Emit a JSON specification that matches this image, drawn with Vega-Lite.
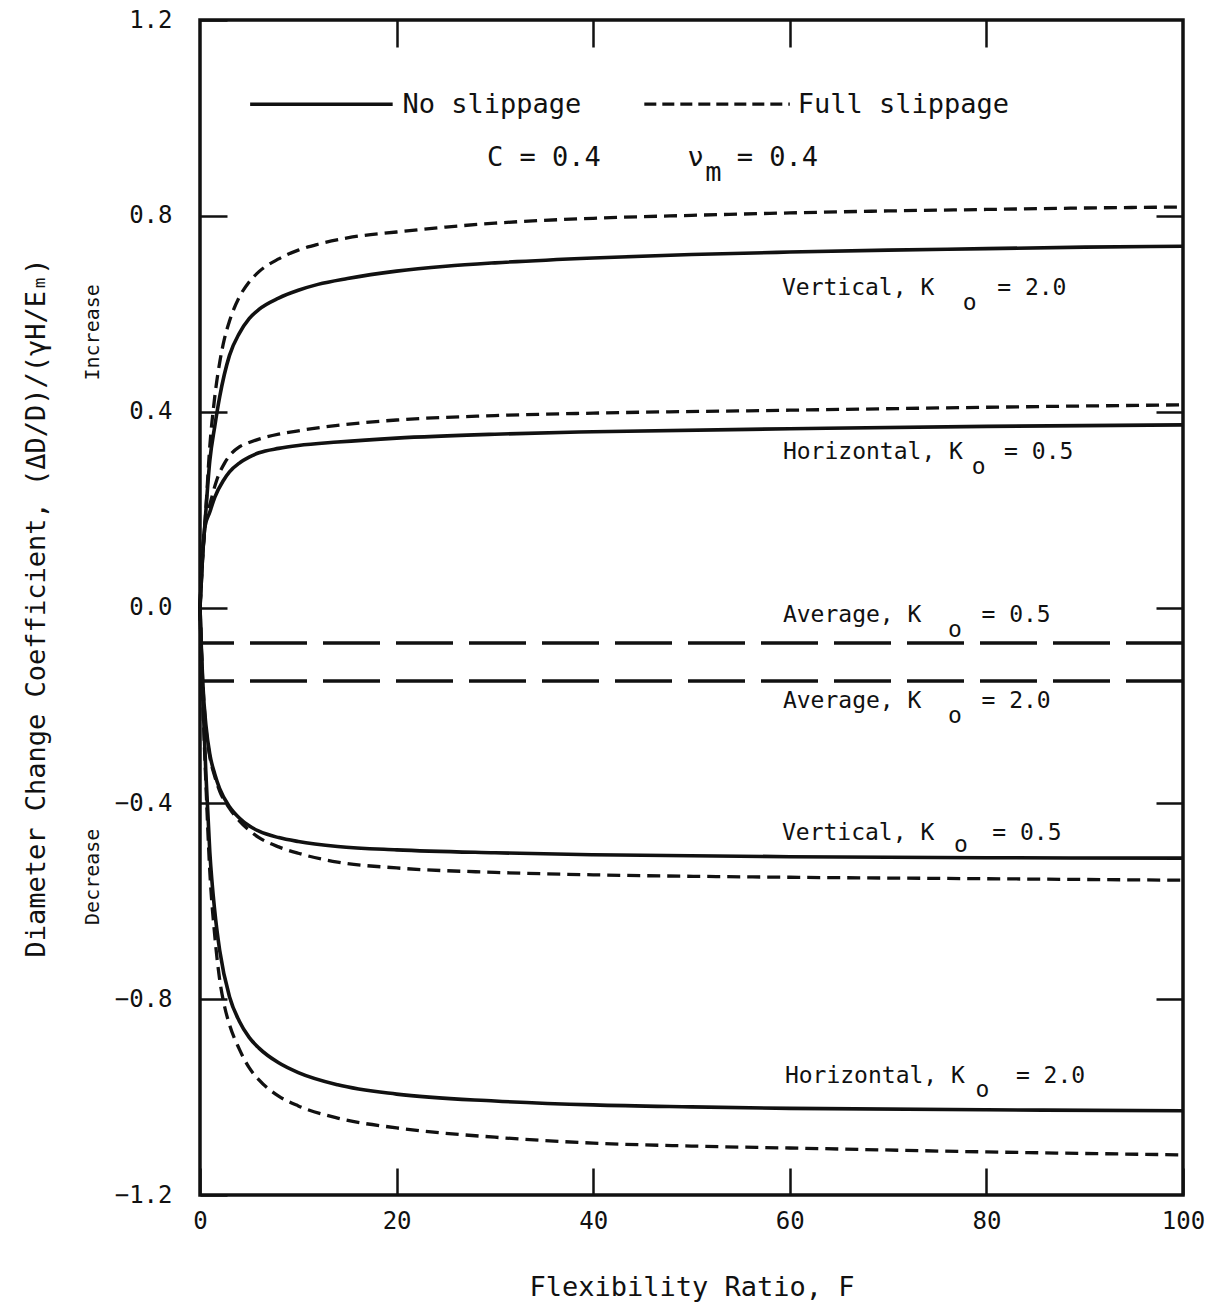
{
  "$schema": "https://vega.github.io/schema/vega-lite/v6.json",
  "width": 983,
  "height": 1175,
  "autosize": "none",
  "padding": {"left": 200, "top": 20, "right": 32, "bottom": 108},
  "background": "white",
  "config": {
    "view": {"stroke": "#111", "strokeWidth": 3.5},
    "axis": {
      "domain": false,
      "grid": false,
      "tickColor": "#111",
      "tickWidth": 2.5,
      "tickSize": -27,
      "labelColor": "#111",
      "labelFont": "DejaVu Sans Mono",
      "labelFontSize": 24,
      "labelFlush": false,
      "labelOverlap": false,
      "titleColor": "#111",
      "titleFont": "DejaVu Sans Mono",
      "titleFontSize": 27,
      "titleFontWeight": "normal"
    },
    "text": {"font": "DejaVu Sans Mono", "fontSize": 23, "color": "#111"}
  },
  "datasets": {
    "curves": [
      {"curve": "Vertical, Ko = 2.0", "contact": "No slippage", "F": 0, "coef": 0},
      {"curve": "Vertical, Ko = 2.0", "contact": "No slippage", "F": 0.25, "coef": 0.1},
      {"curve": "Vertical, Ko = 2.0", "contact": "No slippage", "F": 0.5, "coef": 0.17},
      {"curve": "Vertical, Ko = 2.0", "contact": "No slippage", "F": 1, "coef": 0.3},
      {"curve": "Vertical, Ko = 2.0", "contact": "No slippage", "F": 1.5, "coef": 0.37},
      {"curve": "Vertical, Ko = 2.0", "contact": "No slippage", "F": 2, "coef": 0.43},
      {"curve": "Vertical, Ko = 2.0", "contact": "No slippage", "F": 3, "coef": 0.515},
      {"curve": "Vertical, Ko = 2.0", "contact": "No slippage", "F": 4, "coef": 0.56},
      {"curve": "Vertical, Ko = 2.0", "contact": "No slippage", "F": 5, "coef": 0.59},
      {"curve": "Vertical, Ko = 2.0", "contact": "No slippage", "F": 6, "coef": 0.609},
      {"curve": "Vertical, Ko = 2.0", "contact": "No slippage", "F": 8, "coef": 0.632},
      {"curve": "Vertical, Ko = 2.0", "contact": "No slippage", "F": 10, "coef": 0.648},
      {"curve": "Vertical, Ko = 2.0", "contact": "No slippage", "F": 12, "coef": 0.66},
      {"curve": "Vertical, Ko = 2.0", "contact": "No slippage", "F": 15, "coef": 0.672},
      {"curve": "Vertical, Ko = 2.0", "contact": "No slippage", "F": 20, "coef": 0.687},
      {"curve": "Vertical, Ko = 2.0", "contact": "No slippage", "F": 25, "coef": 0.697},
      {"curve": "Vertical, Ko = 2.0", "contact": "No slippage", "F": 30, "coef": 0.704},
      {"curve": "Vertical, Ko = 2.0", "contact": "No slippage", "F": 40, "coef": 0.714},
      {"curve": "Vertical, Ko = 2.0", "contact": "No slippage", "F": 50, "coef": 0.721},
      {"curve": "Vertical, Ko = 2.0", "contact": "No slippage", "F": 60, "coef": 0.726},
      {"curve": "Vertical, Ko = 2.0", "contact": "No slippage", "F": 70, "coef": 0.73},
      {"curve": "Vertical, Ko = 2.0", "contact": "No slippage", "F": 80, "coef": 0.733},
      {"curve": "Vertical, Ko = 2.0", "contact": "No slippage", "F": 90, "coef": 0.736},
      {"curve": "Vertical, Ko = 2.0", "contact": "No slippage", "F": 100, "coef": 0.738},

      {"curve": "Vertical, Ko = 2.0", "contact": "Full slippage", "F": 0, "coef": 0},
      {"curve": "Vertical, Ko = 2.0", "contact": "Full slippage", "F": 0.25, "coef": 0.1},
      {"curve": "Vertical, Ko = 2.0", "contact": "Full slippage", "F": 0.5, "coef": 0.17},
      {"curve": "Vertical, Ko = 2.0", "contact": "Full slippage", "F": 1, "coef": 0.33},
      {"curve": "Vertical, Ko = 2.0", "contact": "Full slippage", "F": 1.5, "coef": 0.43},
      {"curve": "Vertical, Ko = 2.0", "contact": "Full slippage", "F": 2, "coef": 0.5},
      {"curve": "Vertical, Ko = 2.0", "contact": "Full slippage", "F": 2.5, "coef": 0.55},
      {"curve": "Vertical, Ko = 2.0", "contact": "Full slippage", "F": 3, "coef": 0.585},
      {"curve": "Vertical, Ko = 2.0", "contact": "Full slippage", "F": 4, "coef": 0.634},
      {"curve": "Vertical, Ko = 2.0", "contact": "Full slippage", "F": 5, "coef": 0.665},
      {"curve": "Vertical, Ko = 2.0", "contact": "Full slippage", "F": 6, "coef": 0.686},
      {"curve": "Vertical, Ko = 2.0", "contact": "Full slippage", "F": 8, "coef": 0.712},
      {"curve": "Vertical, Ko = 2.0", "contact": "Full slippage", "F": 10, "coef": 0.73},
      {"curve": "Vertical, Ko = 2.0", "contact": "Full slippage", "F": 12, "coef": 0.742},
      {"curve": "Vertical, Ko = 2.0", "contact": "Full slippage", "F": 15, "coef": 0.755},
      {"curve": "Vertical, Ko = 2.0", "contact": "Full slippage", "F": 20, "coef": 0.767},
      {"curve": "Vertical, Ko = 2.0", "contact": "Full slippage", "F": 25, "coef": 0.777},
      {"curve": "Vertical, Ko = 2.0", "contact": "Full slippage", "F": 30, "coef": 0.785},
      {"curve": "Vertical, Ko = 2.0", "contact": "Full slippage", "F": 40, "coef": 0.795},
      {"curve": "Vertical, Ko = 2.0", "contact": "Full slippage", "F": 50, "coef": 0.801},
      {"curve": "Vertical, Ko = 2.0", "contact": "Full slippage", "F": 60, "coef": 0.806},
      {"curve": "Vertical, Ko = 2.0", "contact": "Full slippage", "F": 70, "coef": 0.81},
      {"curve": "Vertical, Ko = 2.0", "contact": "Full slippage", "F": 80, "coef": 0.813},
      {"curve": "Vertical, Ko = 2.0", "contact": "Full slippage", "F": 90, "coef": 0.816},
      {"curve": "Vertical, Ko = 2.0", "contact": "Full slippage", "F": 100, "coef": 0.818},

      {"curve": "Horizontal, Ko = 0.5", "contact": "No slippage", "F": 0, "coef": 0},
      {"curve": "Horizontal, Ko = 0.5", "contact": "No slippage", "F": 0.25, "coef": 0.1},
      {"curve": "Horizontal, Ko = 0.5", "contact": "No slippage", "F": 0.5, "coef": 0.165},
      {"curve": "Horizontal, Ko = 0.5", "contact": "No slippage", "F": 1, "coef": 0.195},
      {"curve": "Horizontal, Ko = 0.5", "contact": "No slippage", "F": 1.5, "coef": 0.225},
      {"curve": "Horizontal, Ko = 0.5", "contact": "No slippage", "F": 2.4, "coef": 0.26},
      {"curve": "Horizontal, Ko = 0.5", "contact": "No slippage", "F": 3, "coef": 0.277},
      {"curve": "Horizontal, Ko = 0.5", "contact": "No slippage", "F": 4, "coef": 0.295},
      {"curve": "Horizontal, Ko = 0.5", "contact": "No slippage", "F": 5, "coef": 0.307},
      {"curve": "Horizontal, Ko = 0.5", "contact": "No slippage", "F": 6, "coef": 0.316},
      {"curve": "Horizontal, Ko = 0.5", "contact": "No slippage", "F": 8, "coef": 0.325},
      {"curve": "Horizontal, Ko = 0.5", "contact": "No slippage", "F": 10, "coef": 0.331},
      {"curve": "Horizontal, Ko = 0.5", "contact": "No slippage", "F": 14, "coef": 0.338},
      {"curve": "Horizontal, Ko = 0.5", "contact": "No slippage", "F": 20, "coef": 0.346},
      {"curve": "Horizontal, Ko = 0.5", "contact": "No slippage", "F": 30, "coef": 0.354},
      {"curve": "Horizontal, Ko = 0.5", "contact": "No slippage", "F": 40, "coef": 0.359},
      {"curve": "Horizontal, Ko = 0.5", "contact": "No slippage", "F": 60, "coef": 0.365},
      {"curve": "Horizontal, Ko = 0.5", "contact": "No slippage", "F": 80, "coef": 0.37},
      {"curve": "Horizontal, Ko = 0.5", "contact": "No slippage", "F": 100, "coef": 0.373},

      {"curve": "Horizontal, Ko = 0.5", "contact": "Full slippage", "F": 0, "coef": 0},
      {"curve": "Horizontal, Ko = 0.5", "contact": "Full slippage", "F": 0.25, "coef": 0.1},
      {"curve": "Horizontal, Ko = 0.5", "contact": "Full slippage", "F": 0.5, "coef": 0.17},
      {"curve": "Horizontal, Ko = 0.5", "contact": "Full slippage", "F": 1, "coef": 0.21},
      {"curve": "Horizontal, Ko = 0.5", "contact": "Full slippage", "F": 1.7, "coef": 0.26},
      {"curve": "Horizontal, Ko = 0.5", "contact": "Full slippage", "F": 2.5, "coef": 0.295},
      {"curve": "Horizontal, Ko = 0.5", "contact": "Full slippage", "F": 3, "coef": 0.31},
      {"curve": "Horizontal, Ko = 0.5", "contact": "Full slippage", "F": 4, "coef": 0.328},
      {"curve": "Horizontal, Ko = 0.5", "contact": "Full slippage", "F": 5, "coef": 0.337},
      {"curve": "Horizontal, Ko = 0.5", "contact": "Full slippage", "F": 6, "coef": 0.344},
      {"curve": "Horizontal, Ko = 0.5", "contact": "Full slippage", "F": 8, "coef": 0.354},
      {"curve": "Horizontal, Ko = 0.5", "contact": "Full slippage", "F": 10, "coef": 0.361},
      {"curve": "Horizontal, Ko = 0.5", "contact": "Full slippage", "F": 14, "coef": 0.372},
      {"curve": "Horizontal, Ko = 0.5", "contact": "Full slippage", "F": 20, "coef": 0.383},
      {"curve": "Horizontal, Ko = 0.5", "contact": "Full slippage", "F": 30, "coef": 0.392},
      {"curve": "Horizontal, Ko = 0.5", "contact": "Full slippage", "F": 40, "coef": 0.397},
      {"curve": "Horizontal, Ko = 0.5", "contact": "Full slippage", "F": 60, "coef": 0.403},
      {"curve": "Horizontal, Ko = 0.5", "contact": "Full slippage", "F": 80, "coef": 0.409},
      {"curve": "Horizontal, Ko = 0.5", "contact": "Full slippage", "F": 100, "coef": 0.414},

      {"curve": "Vertical, Ko = 0.5", "contact": "No slippage", "F": 0, "coef": 0},
      {"curve": "Vertical, Ko = 0.5", "contact": "No slippage", "F": 0.15, "coef": -0.09},
      {"curve": "Vertical, Ko = 0.5", "contact": "No slippage", "F": 0.3, "coef": -0.16},
      {"curve": "Vertical, Ko = 0.5", "contact": "No slippage", "F": 0.6, "coef": -0.24},
      {"curve": "Vertical, Ko = 0.5", "contact": "No slippage", "F": 1, "coef": -0.3},
      {"curve": "Vertical, Ko = 0.5", "contact": "No slippage", "F": 1.5, "coef": -0.34},
      {"curve": "Vertical, Ko = 0.5", "contact": "No slippage", "F": 2, "coef": -0.37},
      {"curve": "Vertical, Ko = 0.5", "contact": "No slippage", "F": 3, "coef": -0.407},
      {"curve": "Vertical, Ko = 0.5", "contact": "No slippage", "F": 4, "coef": -0.43},
      {"curve": "Vertical, Ko = 0.5", "contact": "No slippage", "F": 5, "coef": -0.446},
      {"curve": "Vertical, Ko = 0.5", "contact": "No slippage", "F": 6, "coef": -0.457},
      {"curve": "Vertical, Ko = 0.5", "contact": "No slippage", "F": 8, "coef": -0.47},
      {"curve": "Vertical, Ko = 0.5", "contact": "No slippage", "F": 10, "coef": -0.478},
      {"curve": "Vertical, Ko = 0.5", "contact": "No slippage", "F": 14, "coef": -0.488},
      {"curve": "Vertical, Ko = 0.5", "contact": "No slippage", "F": 20, "coef": -0.495},
      {"curve": "Vertical, Ko = 0.5", "contact": "No slippage", "F": 30, "coef": -0.501},
      {"curve": "Vertical, Ko = 0.5", "contact": "No slippage", "F": 40, "coef": -0.505},
      {"curve": "Vertical, Ko = 0.5", "contact": "No slippage", "F": 60, "coef": -0.509},
      {"curve": "Vertical, Ko = 0.5", "contact": "No slippage", "F": 80, "coef": -0.511},
      {"curve": "Vertical, Ko = 0.5", "contact": "No slippage", "F": 100, "coef": -0.512},

      {"curve": "Vertical, Ko = 0.5", "contact": "Full slippage", "F": 0, "coef": 0},
      {"curve": "Vertical, Ko = 0.5", "contact": "Full slippage", "F": 0.15, "coef": -0.09},
      {"curve": "Vertical, Ko = 0.5", "contact": "Full slippage", "F": 0.3, "coef": -0.16},
      {"curve": "Vertical, Ko = 0.5", "contact": "Full slippage", "F": 0.6, "coef": -0.245},
      {"curve": "Vertical, Ko = 0.5", "contact": "Full slippage", "F": 1, "coef": -0.305},
      {"curve": "Vertical, Ko = 0.5", "contact": "Full slippage", "F": 1.5, "coef": -0.345},
      {"curve": "Vertical, Ko = 0.5", "contact": "Full slippage", "F": 2, "coef": -0.375},
      {"curve": "Vertical, Ko = 0.5", "contact": "Full slippage", "F": 3, "coef": -0.41},
      {"curve": "Vertical, Ko = 0.5", "contact": "Full slippage", "F": 4, "coef": -0.436},
      {"curve": "Vertical, Ko = 0.5", "contact": "Full slippage", "F": 5, "coef": -0.455},
      {"curve": "Vertical, Ko = 0.5", "contact": "Full slippage", "F": 6, "coef": -0.47},
      {"curve": "Vertical, Ko = 0.5", "contact": "Full slippage", "F": 8, "coef": -0.489},
      {"curve": "Vertical, Ko = 0.5", "contact": "Full slippage", "F": 10, "coef": -0.502},
      {"curve": "Vertical, Ko = 0.5", "contact": "Full slippage", "F": 14, "coef": -0.52},
      {"curve": "Vertical, Ko = 0.5", "contact": "Full slippage", "F": 20, "coef": -0.532},
      {"curve": "Vertical, Ko = 0.5", "contact": "Full slippage", "F": 30, "coef": -0.541},
      {"curve": "Vertical, Ko = 0.5", "contact": "Full slippage", "F": 40, "coef": -0.546},
      {"curve": "Vertical, Ko = 0.5", "contact": "Full slippage", "F": 60, "coef": -0.551},
      {"curve": "Vertical, Ko = 0.5", "contact": "Full slippage", "F": 80, "coef": -0.554},
      {"curve": "Vertical, Ko = 0.5", "contact": "Full slippage", "F": 100, "coef": -0.557},

      {"curve": "Horizontal, Ko = 2.0", "contact": "No slippage", "F": 0, "coef": 0},
      {"curve": "Horizontal, Ko = 2.0", "contact": "No slippage", "F": 0.15, "coef": -0.1},
      {"curve": "Horizontal, Ko = 2.0", "contact": "No slippage", "F": 0.3, "coef": -0.19},
      {"curve": "Horizontal, Ko = 2.0", "contact": "No slippage", "F": 0.6, "coef": -0.34},
      {"curve": "Horizontal, Ko = 2.0", "contact": "No slippage", "F": 1, "coef": -0.5},
      {"curve": "Horizontal, Ko = 2.0", "contact": "No slippage", "F": 1.5, "coef": -0.62},
      {"curve": "Horizontal, Ko = 2.0", "contact": "No slippage", "F": 2, "coef": -0.7},
      {"curve": "Horizontal, Ko = 2.0", "contact": "No slippage", "F": 3, "coef": -0.795},
      {"curve": "Horizontal, Ko = 2.0", "contact": "No slippage", "F": 4, "coef": -0.845},
      {"curve": "Horizontal, Ko = 2.0", "contact": "No slippage", "F": 5, "coef": -0.878},
      {"curve": "Horizontal, Ko = 2.0", "contact": "No slippage", "F": 6, "coef": -0.9},
      {"curve": "Horizontal, Ko = 2.0", "contact": "No slippage", "F": 8, "coef": -0.93},
      {"curve": "Horizontal, Ko = 2.0", "contact": "No slippage", "F": 10, "coef": -0.95},
      {"curve": "Horizontal, Ko = 2.0", "contact": "No slippage", "F": 14, "coef": -0.975},
      {"curve": "Horizontal, Ko = 2.0", "contact": "No slippage", "F": 20, "coef": -0.994},
      {"curve": "Horizontal, Ko = 2.0", "contact": "No slippage", "F": 30, "coef": -1.008},
      {"curve": "Horizontal, Ko = 2.0", "contact": "No slippage", "F": 40, "coef": -1.016},
      {"curve": "Horizontal, Ko = 2.0", "contact": "No slippage", "F": 50, "coef": -1.02},
      {"curve": "Horizontal, Ko = 2.0", "contact": "No slippage", "F": 60, "coef": -1.023},
      {"curve": "Horizontal, Ko = 2.0", "contact": "No slippage", "F": 80, "coef": -1.026},
      {"curve": "Horizontal, Ko = 2.0", "contact": "No slippage", "F": 100, "coef": -1.028},

      {"curve": "Horizontal, Ko = 2.0", "contact": "Full slippage", "F": 0, "coef": 0},
      {"curve": "Horizontal, Ko = 2.0", "contact": "Full slippage", "F": 0.15, "coef": -0.1},
      {"curve": "Horizontal, Ko = 2.0", "contact": "Full slippage", "F": 0.3, "coef": -0.2},
      {"curve": "Horizontal, Ko = 2.0", "contact": "Full slippage", "F": 0.6, "coef": -0.36},
      {"curve": "Horizontal, Ko = 2.0", "contact": "Full slippage", "F": 1, "coef": -0.54},
      {"curve": "Horizontal, Ko = 2.0", "contact": "Full slippage", "F": 1.5, "coef": -0.67},
      {"curve": "Horizontal, Ko = 2.0", "contact": "Full slippage", "F": 2, "coef": -0.76},
      {"curve": "Horizontal, Ko = 2.0", "contact": "Full slippage", "F": 2.5, "coef": -0.815},
      {"curve": "Horizontal, Ko = 2.0", "contact": "Full slippage", "F": 3, "coef": -0.852},
      {"curve": "Horizontal, Ko = 2.0", "contact": "Full slippage", "F": 4, "coef": -0.902},
      {"curve": "Horizontal, Ko = 2.0", "contact": "Full slippage", "F": 5, "coef": -0.94},
      {"curve": "Horizontal, Ko = 2.0", "contact": "Full slippage", "F": 6, "coef": -0.965},
      {"curve": "Horizontal, Ko = 2.0", "contact": "Full slippage", "F": 8, "coef": -0.998},
      {"curve": "Horizontal, Ko = 2.0", "contact": "Full slippage", "F": 10, "coef": -1.018},
      {"curve": "Horizontal, Ko = 2.0", "contact": "Full slippage", "F": 14, "coef": -1.043},
      {"curve": "Horizontal, Ko = 2.0", "contact": "Full slippage", "F": 20, "coef": -1.063},
      {"curve": "Horizontal, Ko = 2.0", "contact": "Full slippage", "F": 30, "coef": -1.082},
      {"curve": "Horizontal, Ko = 2.0", "contact": "Full slippage", "F": 40, "coef": -1.094},
      {"curve": "Horizontal, Ko = 2.0", "contact": "Full slippage", "F": 50, "coef": -1.1},
      {"curve": "Horizontal, Ko = 2.0", "contact": "Full slippage", "F": 60, "coef": -1.104},
      {"curve": "Horizontal, Ko = 2.0", "contact": "Full slippage", "F": 80, "coef": -1.112},
      {"curve": "Horizontal, Ko = 2.0", "contact": "Full slippage", "F": 100, "coef": -1.118}
    ],
    "averages": [
      {"curve": "Average, Ko = 0.5", "coef": -0.0725},
      {"curve": "Average, Ko = 2.0", "coef": -0.15}
    ],
    "key": [
      {"contact": "No slippage", "F": 5.1, "F2": 19.6, "coef": 1.028},
      {"contact": "Full slippage", "F": 45.2, "F2": 60.0, "coef": 1.028}
    ],
    "notes": [
      {"F": 20.6, "coef": 1.01, "text": "No slippage", "size": "key"},
      {"F": 60.8, "coef": 1.01, "text": "Full slippage", "size": "key"},
      {"F": 29.2, "coef": 0.902, "text": "C = 0.4", "size": "key"},
      {"F": 49.6, "coef": 0.902, "text": "ν", "size": "key"},
      {"F": 51.4, "coef": 0.871, "text": "m", "size": "key"},
      {"F": 54.6, "coef": 0.902, "text": "= 0.4", "size": "key"},

      {"F": 59.2, "coef": 0.638, "text": "Vertical, K", "size": "label"},
      {"F": 77.6, "coef": 0.608, "text": "o", "size": "label"},
      {"F": 81.1, "coef": 0.638, "text": "= 2.0", "size": "label"},

      {"F": 59.3, "coef": 0.303, "text": "Horizontal, K", "size": "label"},
      {"F": 78.5, "coef": 0.273, "text": "o", "size": "label"},
      {"F": 81.8, "coef": 0.303, "text": "= 0.5", "size": "label"},

      {"F": 59.3, "coef": -0.03, "text": "Average, K", "size": "label"},
      {"F": 76.1, "coef": -0.06, "text": "o", "size": "label"},
      {"F": 79.5, "coef": -0.03, "text": "= 0.5", "size": "label"},

      {"F": 59.3, "coef": -0.205, "text": "Average, K", "size": "label"},
      {"F": 76.1, "coef": -0.236, "text": "o", "size": "label"},
      {"F": 79.5, "coef": -0.205, "text": "= 2.0", "size": "label"},

      {"F": 59.2, "coef": -0.475, "text": "Vertical, K", "size": "label"},
      {"F": 76.7, "coef": -0.5, "text": "o", "size": "label"},
      {"F": 80.6, "coef": -0.475, "text": "= 0.5", "size": "label"},

      {"F": 59.5, "coef": -0.971, "text": "Horizontal, K", "size": "label"},
      {"F": 78.9, "coef": -1.0, "text": "o", "size": "label"},
      {"F": 83.0, "coef": -0.971, "text": "= 2.0", "size": "label"}
    ],
    "sides": [
      {"F": -10.9, "coef": 0.562, "text": "Increase"},
      {"F": -10.9, "coef": -0.55, "text": "Decrease"}
    ]
  },
  "layer": [
    {
      "data": {"name": "curves"},
      "transform": [{"filter": "datum.contact === 'No slippage'"}],
      "mark": {"type": "line", "interpolate": "monotone", "color": "#111", "strokeWidth": 3.6},
      "encoding": {
        "x": {
          "field": "F", "type": "quantitative",
          "scale": {"domain": [0, 100], "nice": false, "zero": false},
          "axis": {
            "orient": "bottom",
            "values": [0, 20, 40, 60, 80, 100],
            "format": "d",
            "labelPadding": 41,
            "title": "Flexibility Ratio, F",
            "titlePadding": 41
          }
        },
        "y": {
          "field": "coef", "type": "quantitative",
          "scale": {"domain": [-1.2, 1.2], "nice": false, "zero": false},
          "axis": {
            "orient": "left",
            "values": [-1.2, -0.8, -0.4, 0, 0.4, 0.8, 1.2],
            "format": ".1f",
            "labelPadding": 55,
            "title": "Diameter Change Coefficient, (ΔD/D)/(γH/Eₘ)",
            "titlePadding": 64
          }
        },
        "detail": {"field": "curve"}
      }
    },
    {
      "data": {"name": "curves"},
      "transform": [{"filter": "datum.contact === 'Full slippage'"}],
      "mark": {"type": "line", "interpolate": "monotone", "color": "#111", "strokeWidth": 3.3, "strokeDash": [13, 7]},
      "encoding": {
        "x": {
          "field": "F", "type": "quantitative",
          "axis": {"orient": "top", "values": [20, 40, 60, 80], "labels": false, "title": null}
        },
        "y": {
          "field": "coef", "type": "quantitative",
          "axis": {"orient": "right", "values": [-0.8, -0.4, 0, 0.4, 0.8], "labels": false, "title": null}
        },
        "detail": {"field": "curve"}
      }
    },
    {
      "data": {"name": "averages"},
      "mark": {"type": "rule", "color": "#111", "strokeWidth": 3.6, "strokeDash": [57, 16]},
      "encoding": {
        "y": {"field": "coef", "type": "quantitative", "axis": null}
      }
    },
    {
      "data": {"name": "key"},
      "transform": [{"filter": "datum.contact === 'No slippage'"}],
      "mark": {"type": "rule", "color": "#111", "strokeWidth": 3.6},
      "encoding": {
        "x": {"field": "F", "type": "quantitative", "axis": null},
        "x2": {"field": "F2"},
        "y": {"field": "coef", "type": "quantitative", "axis": null}
      }
    },
    {
      "data": {"name": "key"},
      "transform": [{"filter": "datum.contact === 'Full slippage'"}],
      "mark": {"type": "rule", "color": "#111", "strokeWidth": 3.3, "strokeDash": [12, 6]},
      "encoding": {
        "x": {"field": "F", "type": "quantitative", "axis": null},
        "x2": {"field": "F2"},
        "y": {"field": "coef", "type": "quantitative", "axis": null}
      }
    },
    {
      "data": {"name": "notes"},
      "transform": [{"filter": "datum.size === 'label'"}],
      "mark": {"type": "text", "align": "left", "baseline": "alphabetic"},
      "encoding": {
        "x": {"field": "F", "type": "quantitative", "axis": null},
        "y": {"field": "coef", "type": "quantitative", "axis": null},
        "text": {"field": "text"}
      }
    },
    {
      "data": {"name": "notes"},
      "transform": [{"filter": "datum.size === 'key'"}],
      "mark": {"type": "text", "align": "left", "baseline": "alphabetic", "fontSize": 27},
      "encoding": {
        "x": {"field": "F", "type": "quantitative", "axis": null},
        "y": {"field": "coef", "type": "quantitative", "axis": null},
        "text": {"field": "text"}
      }
    },
    {
      "data": {"name": "sides"},
      "mark": {"type": "text", "align": "center", "baseline": "middle", "angle": 270, "fontSize": 20},
      "encoding": {
        "x": {"field": "F", "type": "quantitative", "axis": null},
        "y": {"field": "coef", "type": "quantitative", "axis": null},
        "text": {"field": "text"}
      }
    }
  ],
  "resolve": {"axis": {"x": "independent", "y": "independent"}}
}
